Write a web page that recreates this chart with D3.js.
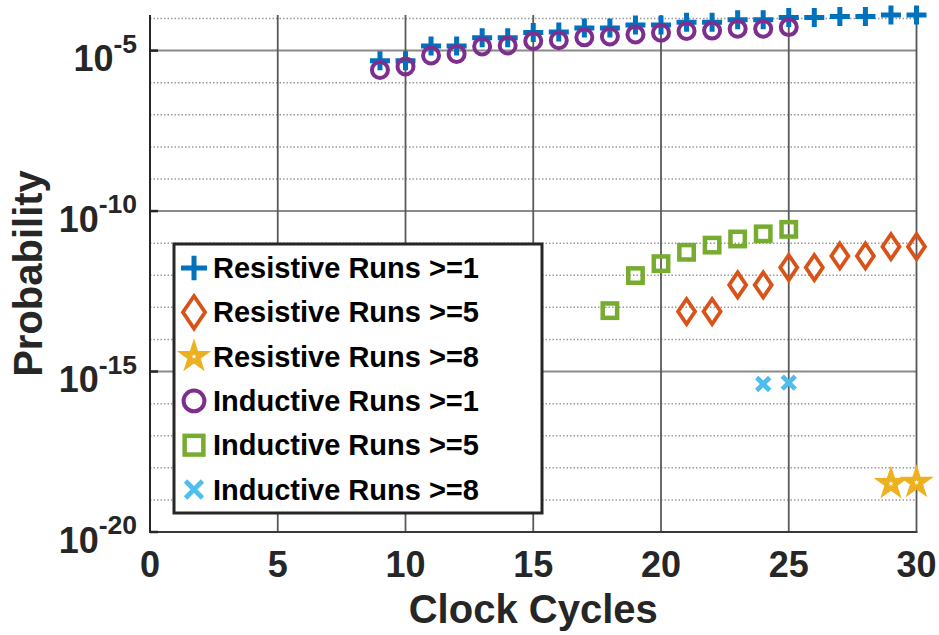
<!DOCTYPE html>
<html>
<head>
<meta charset="utf-8">
<script src="https://cdn.jsdelivr.net/npm/d3@7"></script>
<style>
  body { margin: 0; background: #fff; }
  text { font-family: "Liberation Sans", Arial, sans-serif; font-weight: bold; }
</style>
</head>
<body>
<div id="chart"></div>
<script>
// data
const resistive1X = d3.range(9, 31);
const resistive1Y = [4.8e-6, 4.8e-6, 1.4e-5, 1.4e-5, 2.5e-5, 2.5e-5, 3.7e-5, 3.8e-5, 5.1e-5, 5.1e-5,
  6.3e-5, 6.3e-5, 7.6e-5, 7.6e-5, 9.1e-5, 9.1e-5, 1.07e-4, 1.07e-4, 1.15e-4, 1.15e-4, 1.29e-4, 1.29e-4];
const resistive5X = d3.range(21, 31);
const resistive5Y = [7.4e-14, 7.4e-14, 5.0e-13, 5.0e-13, 1.74e-12, 1.74e-12, 4.0e-12, 4.0e-12, 7.8e-12, 7.8e-12];
const resistive8X = [29, 30];
const resistive8Y = [3.2e-19, 3.5e-19];
const inductive1X = d3.range(9, 26);
const inductive1Y = [2.5e-6, 3.2e-6, 7.1e-6, 7.9e-6, 1.35e-5, 1.45e-5, 2.0e-5, 2.1e-5, 2.6e-5, 2.75e-5,
  3.2e-5, 3.6e-5, 4.1e-5, 4.2e-5, 4.8e-5, 4.8e-5, 5.4e-5];
const inductive5X = d3.range(18, 26);
const inductive5Y = [7.9e-14, 9.8e-13, 2.3e-12, 5.2e-12, 8.7e-12, 1.35e-11, 1.95e-11, 2.7e-11];
const inductive8X = [24, 25];
const inductive8Y = [4.1e-16, 4.5e-16];

const xTicks = [0, 5, 10, 15, 20, 25, 30];
const yMajorExp = [-20, -15, -10, -5];

const series = [
  { name: 'Resistive Runs >=1', xs: resistive1X, ys: resistive1Y, color: '#0072BD', shape: 'plus' },
  { name: 'Resistive Runs >=5', xs: resistive5X, ys: resistive5Y, color: '#D95319', shape: 'diamond' },
  { name: 'Resistive Runs >=8', xs: resistive8X, ys: resistive8Y, color: '#EDB120', shape: 'star' },
  { name: 'Inductive Runs >=1', xs: inductive1X, ys: inductive1Y, color: '#7E2F8E', shape: 'circle' },
  { name: 'Inductive Runs >=5', xs: inductive5X, ys: inductive5Y, color: '#77AC30', shape: 'square' },
  { name: 'Inductive Runs >=8', xs: inductive8X, ys: inductive8Y, color: '#4DBEEE', shape: 'cross' }
];

const width = 939, height = 635;
const plotL = 150, plotR = 916.5, plotT = 15, plotB = 532;

const x = d3.scaleLinear().domain([0, 30]).range([plotL, plotR]);
const y = d3.scaleLog().domain([1e-20, Math.pow(10, -3.89)]).range([plotB, plotT]);

const svg = d3.select('#chart').append('svg')
    .attr('width', width).attr('height', height);

// minor grid, every decade
const minorExp = d3.range(-19, -3).filter(e => e % 5 !== 0);
svg.append('g').selectAll('line')
  .data(minorExp)
  .enter().append('line')
    .attr('x1', plotL).attr('x2', plotR)
    .attr('y1', d => y(Math.pow(10, d))).attr('y2', d => y(Math.pow(10, d)))
    .attr('stroke', '#9a9a9a').attr('stroke-width', 1.5)
    .attr('stroke-dasharray', '1.5,2');

// major grid
svg.append('g').selectAll('line')
  .data(yMajorExp.filter(e => e > -20))
  .enter().append('line')
    .attr('x1', plotL).attr('x2', plotR)
    .attr('y1', d => y(Math.pow(10, d))).attr('y2', d => y(Math.pow(10, d)))
    .attr('stroke', '#8a8a8a').attr('stroke-width', 2);

svg.append('g').selectAll('line')
  .data(xTicks.filter(t => t > 0 && t < 30))
  .enter().append('line')
    .attr('x1', d => x(d)).attr('x2', d => x(d))
    .attr('y1', plotT).attr('y2', plotB)
    .attr('stroke', '#5a5a5a').attr('stroke-width', 1.8);

// axes lines
svg.append('line').attr('x1', plotL).attr('x2', plotL).attr('y1', plotT).attr('y2', plotB)
  .attr('stroke', '#262626').attr('stroke-width', 2);
svg.append('line').attr('x1', plotL - 1).attr('x2', plotR + 1).attr('y1', plotB).attr('y2', plotB)
  .attr('stroke', '#3a3a3a').attr('stroke-width', 2);
svg.append('line').attr('x1', plotR).attr('x2', plotR).attr('y1', plotT).attr('y2', plotB)
  .attr('stroke', '#555').attr('stroke-width', 1.8);

// left major ticks
svg.append('g').selectAll('line')
  .data(yMajorExp)
  .enter().append('line')
    .attr('x1', plotL).attr('x2', plotL + 8)
    .attr('y1', d => y(Math.pow(10, d))).attr('y2', d => y(Math.pow(10, d)))
    .attr('stroke', '#262626').attr('stroke-width', 2.5);

// y tick labels
const yl = svg.append('g').selectAll('text')
  .data(yMajorExp)
  .enter().append('text')
    .attr('x', 137)
    .attr('y', d => y(Math.pow(10, d)) + 20.7)
    .attr('text-anchor', 'end')
    .attr('fill', '#262626')
    .style('font-size', '36px');
yl.append('tspan').text('10');
yl.append('tspan').attr('dy', -18.4).style('font-size', '26.5px').text(d => d);

// x tick labels
svg.append('g').selectAll('text')
  .data(xTicks)
  .enter().append('text')
    .attr('x', d => x(d))
    .attr('y', plotB + 45)
    .attr('text-anchor', 'middle')
    .attr('fill', '#262626')
    .style('font-size', '36px')
    .text(d => d);

// axis titles
svg.append('text')
  .attr('x', (plotL + plotR) / 2).attr('y', 623)
  .attr('text-anchor', 'middle').attr('fill', '#262626')
  .style('font-size', '40px')
  .text('Clock Cycles');
svg.append('text')
  .attr('transform', `translate(42,${(plotT + plotB) / 2}) rotate(-90)`)
  .attr('text-anchor', 'middle').attr('fill', '#262626')
  .style('font-size', '40px')
  .text('Probability');

// marker drawing
function starPath(R) {
  const r = R * 0.382, pts = [];
  for (let i = 0; i < 10; i++) {
    const a = -Math.PI / 2 + i * Math.PI / 5, rr = i % 2 ? r : R;
    pts.push([rr * Math.cos(a), rr * Math.sin(a)]);
  }
  return 'M' + pts.join('L') + 'Z';
}

function drawMarker(g, shape, color, k) {
  switch (shape) {
    case 'plus':
      g.append('path').attr('d', `M${-10*k},0H${10*k}M0,${-9.5*k}V${9.5*k}`)
        .attr('stroke', color).attr('stroke-width', 5).attr('fill', 'none');
      break;
    case 'diamond':
      g.append('path').attr('d', `M0,${-12.5*k}L${8.5*k},0L0,${12.5*k}L${-8.5*k},0Z`)
        .attr('stroke', color).attr('stroke-width', 3.8).attr('fill', 'none');
      break;
    case 'star':
      // thick outline star: nearly solid, small white heart
      g.append('path').attr('d', starPath(16.3))
        .attr('fill', color).attr('stroke', color).attr('stroke-width', 1.2);
      g.append('path').attr('d', starPath(2.8)).attr('fill', '#fff');
      break;
    case 'circle':
      g.append('circle').attr('r', 8 * k)
        .attr('stroke', color).attr('stroke-width', 4).attr('fill', 'none');
      break;
    case 'square':
      g.append('rect').attr('x', -7.2 * k).attr('y', -7.2 * k)
        .attr('width', 14.4 * k).attr('height', 14.4 * k)
        .attr('stroke', color).attr('stroke-width', 4.5).attr('fill', 'none');
      break;
    case 'cross':
      g.append('path').attr('d', `M${-6.5*k},${-6.5*k}L${6.5*k},${6.5*k}M${-6.5*k},${6.5*k}L${6.5*k},${-6.5*k}`)
        .attr('stroke', color).attr('stroke-width', 4.8).attr('fill', 'none');
      break;
  }
}

// data markers
series.forEach(s => {
  const pts = s.xs.map((xv, i) => [xv, s.ys[i]]);
  svg.append('g').selectAll('g')
    .data(pts)
    .enter().append('g')
      .attr('transform', d => `translate(${x(d[0])},${y(d[1])})`)
      .each(function() { drawMarker(d3.select(this), s.shape, s.color, 1); });
});

// legend
const lg = svg.append('g');
lg.append('rect')
  .attr('x', 174).attr('y', 244).attr('width', 368).attr('height', 269)
  .attr('fill', '#fff').attr('stroke', '#262626').attr('stroke-width', 3);
const rows = lg.selectAll('g')
  .data(series)
  .enter().append('g')
    .attr('transform', (d, i) => `translate(0,${268 + i * 44.3})`);
rows.append('g').attr('transform', 'translate(194,0)')
  .each(function(d) { drawMarker(d3.select(this), d.shape, d.color, 1.3); });
rows.append('text')
  .attr('x', 213).attr('y', 10)
  .attr('fill', '#000')
  .style('font-size', '29px')
  .text(d => d.name);
</script>
</body>
</html>
